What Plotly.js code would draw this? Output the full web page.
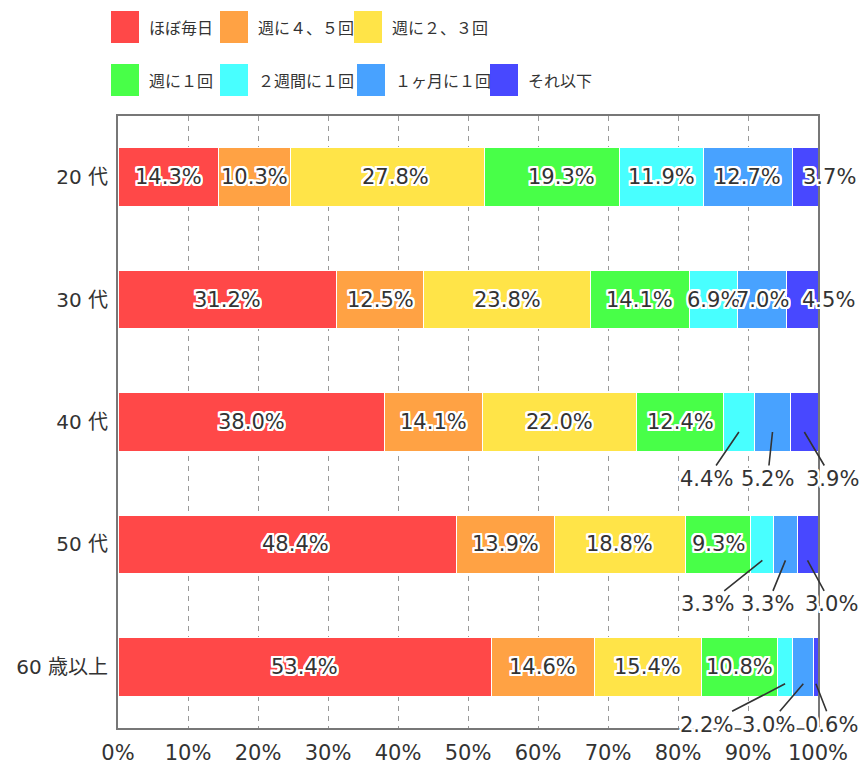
<!DOCTYPE html>
<html><head><meta charset="utf-8">
<script src="https://cdn.plot.ly/plotly-3.0.1.min.js"></script>
<style>html,body{margin:0;padding:0;background:#fff}#chart{width:863px;height:765px}</style>
</head><body><div id="chart"></div>
<script>
// ---- data ----
const categories = ['20代', '30代', '40代', '50代', '60歳以上'];
const categoryTickText = ['20 代', '30 代', '40 代', '50 代', '60 歳以上'];
const seriesNames = ['ほぼ毎日', '週に４、５回', '週に２、３回', '週に１回', '２週間に１回', '１ヶ月に１回', 'それ以下'];
const almostDaily   = [14.3, 31.2, 38.0, 48.4, 53.4];
const week45        = [10.3, 12.5, 14.1, 13.9, 14.6];
const week23        = [27.8, 23.8, 22.0, 18.8, 15.4];
const week1         = [19.3, 14.1, 12.4,  9.3, 10.8];
const biweekly      = [11.9,  6.9,  4.4,  3.3,  2.2];
const monthly       = [12.7,  7.0,  5.2,  3.3,  3.0];
const lessOften     = [ 3.7,  4.5,  3.9,  3.0,  0.6];
const xTickVals = [0, 10, 20, 30, 40, 50, 60, 70, 80, 90, 100];
const xTickText = ['0%', '10%', '20%', '30%', '40%', '50%', '60%', '70%', '80%', '90%', '100%'];

// ---- styling ----
const seriesValues = [almostDaily, week45, week23, week1, biweekly, monthly, lessOften];
const colors = ['#FF4848', '#FFA244', '#FFE448', '#48FF48', '#48FFFF', '#48A2FF', '#4848FF'];
const PLOT = {l: 118, r: 818, t: 116, b: 728};
const W = 863, H = 765;
const px2paperX = p => (p - PLOT.l) / (PLOT.r - PLOT.l);
const px2paperY = p => (PLOT.b - p) / (PLOT.b - PLOT.t);

const halo = [];
for (const dx of [-2, -1, 0, 1, 2]) for (const dy of [-2, -1, 0, 1, 2]) {
  if (dx === 0 && dy === 0) continue;
  halo.push(dx + 'px ' + dy + 'px 0 #fff');
}
const haloStr = halo.join(', ');
const numFont = 'DejaVu Sans, Noto Sans CJK JP, sans-serif';
const labelFont = {family: numFont, size: 21, color: '#333', shadow: haloStr};

// outside labels (leader lines): key = categoryIndex-seriesIndex
const outside = {
  '2-4': {ax: -32, ay: 47, dy: 10}, '2-5': {ax: -5, ay: 47, dy: 10}, '2-6': {ax: 28, ay: 47, dy: 10},
  '3-4': {ax: -55, ay: 44, dy: 16}, '3-5': {ax: -18, ay: 44, dy: 16}, '3-6': {ax: 24, ay: 44, dy: 16},
  '4-4': {ax: -79, ay: 41, dy: 17}, '4-5': {ax: -35, ay: 41, dy: 17}, '4-6': {ax: 16, ay: 41, dy: 17}
};
const insideShift = {'0-6': 24, '0-2': 8, '0-3': 9, '1-6': 26, '3-0': 8};

const traces = seriesNames.map((name, si) => ({
  type: 'bar', orientation: 'h', name: name,
  y: categories, x: seriesValues[si],
  marker: {color: colors[si], line: {color: '#fff', width: 1}},
  hoverinfo: 'x+y+name', showlegend: false
}));

const annotations = [];
categories.forEach((cat, ci) => {
  let cum = 0;
  seriesValues.forEach((vals, si) => {
    const v = vals[ci];
    const mid = cum + v / 2;
    cum += v;
    const key = ci + '-' + si;
    const txt = v.toFixed(1) + '%';
    if (outside[key]) {
      const o = outside[key];
      annotations.push({x: mid, y: cat, xref: 'x', yref: 'y', text: txt, showarrow: true,
        arrowhead: 0, arrowwidth: 1.6, arrowcolor: '#333', ax: o.ax, ay: o.ay, standoff: 0,
        yshift: -o.dy, font: labelFont});
    } else {
      annotations.push({x: mid, y: cat, xref: 'x', yref: 'y', text: txt, showarrow: false,
        xshift: insideShift[key] || 0, font: labelFont});
    }
  });
});

// manual legend
const legendPos = [[111, 27], [220, 27], [354, 27], [111, 80], [220, 80], [357, 80], [490, 80]];
const shapes = [];
seriesNames.forEach((name, si) => {
  const [lx, cy] = legendPos[si];
  shapes.push({type: 'rect', xref: 'paper', yref: 'paper',
    x0: px2paperX(lx), x1: px2paperX(lx + 28), y0: px2paperY(cy + 16), y1: px2paperY(cy - 16),
    fillcolor: colors[si], line: {width: 0}});
  annotations.push({xref: 'paper', yref: 'paper', x: px2paperX(lx + 36), y: px2paperY(cy),
    xanchor: 'left', yanchor: 'middle', showarrow: false, text: name,
    font: {family: 'Noto Sans CJK JP, sans-serif', size: 16, color: '#333'}});
});

const layout = {
  width: W, height: H,
  margin: {l: PLOT.l, r: W - PLOT.r, t: PLOT.t, b: H - PLOT.b, pad: 0},
  paper_bgcolor: '#fff', plot_bgcolor: '#fff',
  barmode: 'stack', bargap: 0.52, showlegend: false,
  font: {family: numFont, color: '#333'},
  xaxis: {range: [0, 100], tickvals: xTickVals, ticktext: xTickText, showgrid: true,
    gridcolor: '#999', griddash: '5px,5px', gridwidth: 1, zeroline: false,
    showline: true, linecolor: '#777', linewidth: 2, mirror: true, ticks: '',
    tickfont: {size: 21, color: '#333'}, ticklabelstandoff: 5, fixedrange: true},
  yaxis: {type: 'category', autorange: 'reversed', showgrid: false, zeroline: false,
    tickvals: categories, ticktext: categoryTickText,
    showline: true, linecolor: '#777', linewidth: 2, mirror: true, ticks: '',
    tickfont: {size: 20, color: '#333'}, ticklabelstandoff: 4, fixedrange: true},
  shapes: shapes, annotations: annotations
};

Plotly.newPlot('chart', traces, layout, {displayModeBar: false, staticPlot: true});
</script></body></html>
